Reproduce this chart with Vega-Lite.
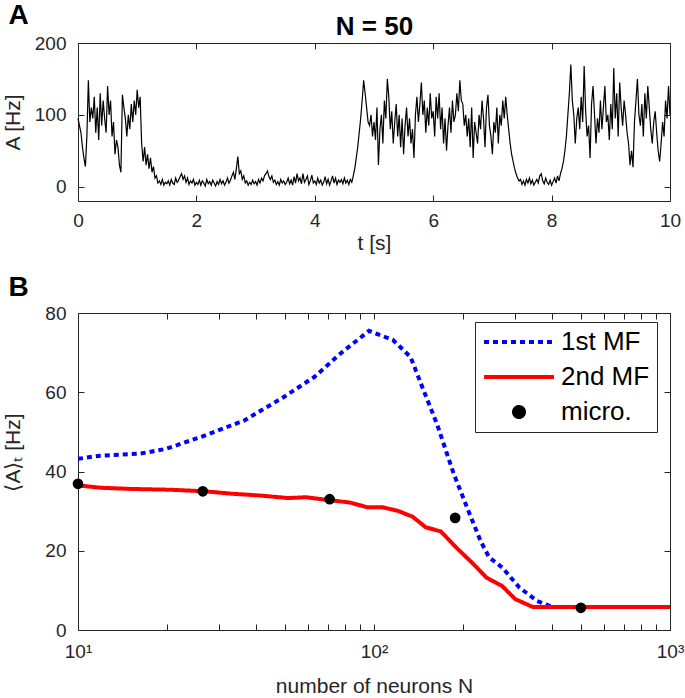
{
  "$schema": "https://vega.github.io/schema/vega-lite/v6.json",
  "padding": {"left": 1, "top": 0, "right": 0, "bottom": 0},
  "config": {
    "font": "Liberation Sans",
    "view": {"stroke": "#262626", "strokeWidth": 1},
    "axis": {"domain": false, "grid": false, "tickSize": -6, "tickColor": "#262626", "tickWidth": 1, "labelFontSize": 19, "labelColor": "#262626", "titleFontSize": 21, "titleFontWeight": "normal", "titleColor": "#262626", "labelFlush": false, "labelOverlap": false},
    "axisY": {"labelPadding": 18},
    "axisX": {"labelPadding": 16}
  },
  "spacing": 18,
  "resolve": {"legend": {"color": "independent"}},
  "vconcat": [
    {
      "width": 592,
      "height": 158,
      "data": {"values": [
{"t":0,"a":95},{"t":0.025,"a":85},{"t":0.05,"a":75},{"t":0.075,"a":55},{"t":0.1,"a":40},{"t":0.125,"a":28},{"t":0.15,"a":70},{"t":0.175,"a":148},{"t":0.2,"a":90},{"t":0.225,"a":110},
{"t":0.25,"a":95},{"t":0.275,"a":125},{"t":0.3,"a":75},{"t":0.325,"a":110},{"t":0.35,"a":65},{"t":0.375,"a":130},{"t":0.4,"a":85},{"t":0.425,"a":120},{"t":0.45,"a":95},{"t":0.475,"a":75},
{"t":0.5,"a":140},{"t":0.525,"a":100},{"t":0.55,"a":120},{"t":0.575,"a":70},{"t":0.6,"a":90},{"t":0.625,"a":45},{"t":0.65,"a":65},{"t":0.675,"a":55},{"t":0.7,"a":30},{"t":0.725,"a":20},
{"t":0.75,"a":128},{"t":0.775,"a":110},{"t":0.8,"a":95},{"t":0.825,"a":70},{"t":0.85,"a":100},{"t":0.875,"a":80},{"t":0.9,"a":115},{"t":0.925,"a":90},{"t":0.95,"a":120},{"t":0.975,"a":100},
{"t":1,"a":135},{"t":1.025,"a":110},{"t":1.05,"a":125},{"t":1.075,"a":60},{"t":1.1,"a":35},{"t":1.125,"a":55},{"t":1.15,"a":30},{"t":1.175,"a":45},{"t":1.2,"a":25},{"t":1.225,"a":40},
{"t":1.25,"a":20},{"t":1.275,"a":28},{"t":1.3,"a":12},{"t":1.325,"a":15},{"t":1.35,"a":5},{"t":1.375,"a":8},{"t":1.4,"a":3},{"t":1.425,"a":10},{"t":1.45,"a":2},{"t":1.475,"a":6},
{"t":1.5,"a":4},{"t":1.525,"a":8},{"t":1.55,"a":2},{"t":1.575,"a":10},{"t":1.6,"a":5},{"t":1.625,"a":3},{"t":1.65,"a":12},{"t":1.675,"a":6},{"t":1.7,"a":9},{"t":1.725,"a":14},
{"t":1.75,"a":18},{"t":1.775,"a":10},{"t":1.8,"a":15},{"t":1.825,"a":6},{"t":1.85,"a":12},{"t":1.875,"a":3},{"t":1.9,"a":8},{"t":1.925,"a":5},{"t":1.95,"a":10},{"t":1.975,"a":2},
{"t":2,"a":6},{"t":2.025,"a":3},{"t":2.05,"a":9},{"t":2.075,"a":2},{"t":2.1,"a":8},{"t":2.125,"a":5},{"t":2.15,"a":1},{"t":2.175,"a":10},{"t":2.2,"a":4},{"t":2.225,"a":7},
{"t":2.25,"a":2},{"t":2.275,"a":9},{"t":2.3,"a":5},{"t":2.325,"a":1},{"t":2.35,"a":7},{"t":2.375,"a":3},{"t":2.4,"a":10},{"t":2.425,"a":4},{"t":2.45,"a":8},{"t":2.475,"a":2},
{"t":2.5,"a":6},{"t":2.525,"a":12},{"t":2.55,"a":5},{"t":2.575,"a":9},{"t":2.6,"a":15},{"t":2.625,"a":20},{"t":2.65,"a":10},{"t":2.675,"a":25},{"t":2.7,"a":42},{"t":2.725,"a":18},
{"t":2.75,"a":22},{"t":2.775,"a":10},{"t":2.8,"a":15},{"t":2.825,"a":5},{"t":2.85,"a":8},{"t":2.875,"a":2},{"t":2.9,"a":6},{"t":2.925,"a":3},{"t":2.95,"a":9},{"t":2.975,"a":4},
{"t":3,"a":7},{"t":3.025,"a":2},{"t":3.05,"a":10},{"t":3.075,"a":5},{"t":3.1,"a":12},{"t":3.125,"a":8},{"t":3.15,"a":15},{"t":3.175,"a":18},{"t":3.2,"a":22},{"t":3.225,"a":14},
{"t":3.25,"a":10},{"t":3.275,"a":15},{"t":3.3,"a":6},{"t":3.325,"a":9},{"t":3.35,"a":3},{"t":3.375,"a":7},{"t":3.4,"a":2},{"t":3.425,"a":10},{"t":3.45,"a":5},{"t":3.475,"a":8},
{"t":3.5,"a":3},{"t":3.525,"a":6},{"t":3.55,"a":12},{"t":3.575,"a":4},{"t":3.6,"a":9},{"t":3.625,"a":2},{"t":3.65,"a":14},{"t":3.675,"a":5},{"t":3.7,"a":18},{"t":3.725,"a":8},
{"t":3.75,"a":12},{"t":3.775,"a":4},{"t":3.8,"a":18},{"t":3.825,"a":6},{"t":3.85,"a":10},{"t":3.875,"a":15},{"t":3.9,"a":3},{"t":3.925,"a":8},{"t":3.95,"a":16},{"t":3.975,"a":5},
{"t":4,"a":8},{"t":4.025,"a":3},{"t":4.05,"a":12},{"t":4.075,"a":5},{"t":4.1,"a":9},{"t":4.125,"a":2},{"t":4.15,"a":6},{"t":4.175,"a":14},{"t":4.2,"a":4},{"t":4.225,"a":10},
{"t":4.25,"a":2},{"t":4.275,"a":8},{"t":4.3,"a":15},{"t":4.325,"a":5},{"t":4.35,"a":12},{"t":4.375,"a":3},{"t":4.4,"a":9},{"t":4.425,"a":6},{"t":4.45,"a":10},{"t":4.475,"a":4},
{"t":4.5,"a":12},{"t":4.525,"a":5},{"t":4.55,"a":9},{"t":4.575,"a":3},{"t":4.6,"a":10},{"t":4.625,"a":6},{"t":4.65,"a":15},{"t":4.675,"a":25},{"t":4.7,"a":40},{"t":4.725,"a":55},
{"t":4.75,"a":75},{"t":4.775,"a":95},{"t":4.8,"a":120},{"t":4.825,"a":148},{"t":4.85,"a":130},{"t":4.875,"a":110},{"t":4.9,"a":90},{"t":4.925,"a":85},{"t":4.95,"a":100},{"t":4.975,"a":70},
{"t":5,"a":90},{"t":5.025,"a":65},{"t":5.05,"a":110},{"t":5.075,"a":30},{"t":5.1,"a":80},{"t":5.125,"a":100},{"t":5.15,"a":60},{"t":5.175,"a":120},{"t":5.2,"a":95},{"t":5.225,"a":150},
{"t":5.25,"a":125},{"t":5.275,"a":80},{"t":5.3,"a":105},{"t":5.325,"a":60},{"t":5.35,"a":90},{"t":5.375,"a":115},{"t":5.4,"a":70},{"t":5.425,"a":100},{"t":5.45,"a":55},{"t":5.475,"a":95},
{"t":5.5,"a":45},{"t":5.525,"a":85},{"t":5.55,"a":110},{"t":5.575,"a":70},{"t":5.6,"a":95},{"t":5.625,"a":60},{"t":5.65,"a":80},{"t":5.675,"a":40},{"t":5.7,"a":100},{"t":5.725,"a":125},
{"t":5.75,"a":90},{"t":5.775,"a":115},{"t":5.8,"a":145},{"t":5.825,"a":100},{"t":5.85,"a":120},{"t":5.875,"a":75},{"t":5.9,"a":110},{"t":5.925,"a":85},{"t":5.95,"a":130},{"t":5.975,"a":95},
{"t":6,"a":105},{"t":6.025,"a":70},{"t":6.05,"a":125},{"t":6.075,"a":95},{"t":6.1,"a":130},{"t":6.125,"a":80},{"t":6.15,"a":110},{"t":6.175,"a":60},{"t":6.2,"a":95},{"t":6.225,"a":50},
{"t":6.25,"a":85},{"t":6.275,"a":110},{"t":6.3,"a":75},{"t":6.325,"a":120},{"t":6.35,"a":90},{"t":6.375,"a":100},{"t":6.4,"a":130},{"t":6.425,"a":105},{"t":6.45,"a":148},{"t":6.475,"a":120},
{"t":6.5,"a":115},{"t":6.525,"a":85},{"t":6.55,"a":100},{"t":6.575,"a":70},{"t":6.6,"a":95},{"t":6.625,"a":55},{"t":6.65,"a":110},{"t":6.675,"a":40},{"t":6.7,"a":90},{"t":6.725,"a":75},
{"t":6.75,"a":60},{"t":6.775,"a":100},{"t":6.8,"a":80},{"t":6.825,"a":120},{"t":6.85,"a":95},{"t":6.875,"a":55},{"t":6.9,"a":110},{"t":6.925,"a":128},{"t":6.95,"a":85},{"t":6.975,"a":70},
{"t":7,"a":45},{"t":7.025,"a":90},{"t":7.05,"a":75},{"t":7.075,"a":110},{"t":7.1,"a":60},{"t":7.125,"a":100},{"t":7.15,"a":85},{"t":7.175,"a":120},{"t":7.2,"a":95},{"t":7.225,"a":125},
{"t":7.25,"a":100},{"t":7.275,"a":80},{"t":7.3,"a":60},{"t":7.325,"a":45},{"t":7.35,"a":35},{"t":7.375,"a":25},{"t":7.4,"a":18},{"t":7.425,"a":12},{"t":7.45,"a":8},{"t":7.475,"a":10},
{"t":7.5,"a":3},{"t":7.525,"a":8},{"t":7.55,"a":2},{"t":7.575,"a":10},{"t":7.6,"a":5},{"t":7.625,"a":12},{"t":7.65,"a":4},{"t":7.675,"a":9},{"t":7.7,"a":2},{"t":7.725,"a":6},
{"t":7.75,"a":10},{"t":7.775,"a":5},{"t":7.8,"a":15},{"t":7.825,"a":18},{"t":7.85,"a":8},{"t":7.875,"a":4},{"t":7.9,"a":12},{"t":7.925,"a":6},{"t":7.95,"a":3},{"t":7.975,"a":9},
{"t":8,"a":2},{"t":8.025,"a":7},{"t":8.05,"a":12},{"t":8.075,"a":5},{"t":8.1,"a":15},{"t":8.125,"a":8},{"t":8.15,"a":18},{"t":8.175,"a":25},{"t":8.2,"a":35},{"t":8.225,"a":50},
{"t":8.25,"a":70},{"t":8.275,"a":100},{"t":8.3,"a":130},{"t":8.325,"a":170},{"t":8.35,"a":120},{"t":8.375,"a":100},{"t":8.4,"a":60},{"t":8.425,"a":95},{"t":8.45,"a":110},{"t":8.475,"a":80},
{"t":8.5,"a":125},{"t":8.525,"a":90},{"t":8.55,"a":168},{"t":8.575,"a":105},{"t":8.6,"a":70},{"t":8.625,"a":85},{"t":8.65,"a":40},{"t":8.675,"a":115},{"t":8.7,"a":140},{"t":8.725,"a":100},
{"t":8.75,"a":60},{"t":8.775,"a":95},{"t":8.8,"a":75},{"t":8.825,"a":120},{"t":8.85,"a":80},{"t":8.875,"a":110},{"t":8.9,"a":140},{"t":8.925,"a":90},{"t":8.95,"a":100},{"t":8.975,"a":65},
{"t":9,"a":115},{"t":9.025,"a":80},{"t":9.05,"a":165},{"t":9.075,"a":95},{"t":9.1,"a":130},{"t":9.125,"a":70},{"t":9.15,"a":145},{"t":9.175,"a":110},{"t":9.2,"a":85},{"t":9.225,"a":120},
{"t":9.25,"a":100},{"t":9.275,"a":75},{"t":9.3,"a":60},{"t":9.325,"a":30},{"t":9.35,"a":50},{"t":9.375,"a":27},{"t":9.4,"a":90},{"t":9.425,"a":120},{"t":9.45,"a":150},{"t":9.475,"a":100},
{"t":9.5,"a":85},{"t":9.525,"a":115},{"t":9.55,"a":70},{"t":9.575,"a":130},{"t":9.6,"a":95},{"t":9.625,"a":140},{"t":9.65,"a":110},{"t":9.675,"a":80},{"t":9.7,"a":60},{"t":9.725,"a":90},
{"t":9.75,"a":105},{"t":9.775,"a":75},{"t":9.8,"a":50},{"t":9.825,"a":35},{"t":9.85,"a":60},{"t":9.875,"a":90},{"t":9.9,"a":70},{"t":9.925,"a":120},{"t":9.95,"a":95},{"t":9.975,"a":140},
{"t":10,"a":100}
      ]},
      "layer": [
        {
          "mark": {"type": "line", "color": "black", "strokeWidth": 1.2},
          "encoding": {
            "x": {"field": "t", "type": "quantitative", "scale": {"domain": [0, 10], "nice": false}, "axis": {"values": [0, 2, 4, 6, 8, 10], "title": "t  [s]", "titlePadding": 2}},
            "y": {"field": "a", "type": "quantitative", "scale": {"domain": [-20, 200], "nice": false}, "axis": {"values": [0, 100, 200], "title": "A  [Hz]", "titleX": -55}}
          }
        },
        {
          "mark": {"type": "line", "opacity": 0},
          "encoding": {
            "x": {"field": "t", "type": "quantitative", "axis": {"orient": "top", "values": [0, 2, 4, 6, 8, 10], "labels": false, "title": "N = 50", "titleFontSize": 26, "titleFontWeight": "bold", "titleColor": "black", "titlePadding": 3}},
            "y": {"field": "a", "type": "quantitative", "axis": {"orient": "right", "values": [0, 100, 200], "labels": false, "title": "A", "titleAngle": 0, "titleAlign": "left", "titleBaseline": "alphabetic", "titleX": -662, "titleY": -20, "titleFontSize": 28, "titleFontWeight": "bold", "titleColor": "black"}}
          }
        }
      ],
      "resolve": {"axis": {"x": "independent", "y": "independent"}}
    },
    {
      "width": 592,
      "height": 317,
      "data": {"values": [
{"s":"1st MF","n":10,"v":43.2},{"s":"1st MF","n":11.9,"v":44.0},{"s":"1st MF","n":16.2,"v":44.5},{"s":"1st MF","n":19.8,"v":45.7},{"s":"1st MF","n":26.9,"v":49.1},{"s":"1st MF","n":36.5,"v":52.9},{"s":"1st MF","n":49.6,"v":58.8},{"s":"1st MF","n":63,"v":63.9},{"s":"1st MF","n":77.1,"v":69.8},{"s":"1st MF","n":96.2,"v":75.5},{"s":"1st MF","n":115.9,"v":73.2},{"s":"1st MF","n":132.9,"v":68.9},{"s":"1st MF","n":147,"v":60.5},{"s":"1st MF","n":163,"v":52.1},{"s":"1st MF","n":186,"v":39.4},{"s":"1st MF","n":206,"v":31.0},{"s":"1st MF","n":229,"v":22.5},{"s":"1st MF","n":245,"v":18.3},{"s":"1st MF","n":271,"v":15.8},{"s":"1st MF","n":310,"v":10.7},{"s":"1st MF","n":356,"v":7.3},{"s":"1st MF","n":401,"v":5.8},{"s":"1st MF","n":1000,"v":5.8},
{"s":"2nd MF","n":10,"v":36.5},{"s":"2nd MF","n":11.9,"v":35.9},{"s":"2nd MF","n":15.1,"v":35.6},{"s":"2nd MF","n":20.5,"v":35.4},{"s":"2nd MF","n":26.9,"v":35.0},{"s":"2nd MF","n":33,"v":34.4},{"s":"2nd MF","n":41.9,"v":33.9},{"s":"2nd MF","n":51.3,"v":33.3},{"s":"2nd MF","n":58.8,"v":33.5},{"s":"2nd MF","n":72,"v":32.7},{"s":"2nd MF","n":82.5,"v":32.2},{"s":"2nd MF","n":94.6,"v":31.0},{"s":"2nd MF","n":106.4,"v":31.0},{"s":"2nd MF","n":120,"v":30.1},{"s":"2nd MF","n":135,"v":28.6},{"s":"2nd MF","n":149.6,"v":25.9},{"s":"2nd MF","n":168,"v":24.9},{"s":"2nd MF","n":189.7,"v":20.8},{"s":"2nd MF","n":217,"v":16.6},{"s":"2nd MF","n":240,"v":13.2},{"s":"2nd MF","n":271,"v":11.1},{"s":"2nd MF","n":300,"v":7.8},{"s":"2nd MF","n":344,"v":5.8},{"s":"2nd MF","n":1000,"v":5.8},
{"s":"micro.","n":10,"v":36.9},{"s":"micro.","n":26.4,"v":35.0},{"s":"micro.","n":70.8,"v":33.0},{"s":"micro.","n":188,"v":28.3},{"s":"micro.","n":500,"v":5.6}
      ]},
      "layer": [
        {
          "transform": [{"filter": "datum.s !== 'micro.'"}],
          "mark": {"type": "line", "strokeWidth": 4},
          "encoding": {
            "x": {"field": "n", "type": "quantitative", "scale": {"type": "log", "domain": [10, 1000], "nice": false}, "axis": {"values": [10, 20, 30, 40, 50, 60, 70, 80, 90, 100, 200, 300, 400, 500, 600, 700, 800, 900, 1000], "labelExpr": "datum.value == 10 ? '10¹' : datum.value == 100 ? '10²' : datum.value == 1000 ? '10³' : ''", "title": "number of neurons N", "labelPadding": 18, "titlePadding": 14}},
            "y": {"field": "v", "type": "quantitative", "scale": {"domain": [0, 80], "nice": false}, "axis": {"values": [0, 20, 40, 60, 80], "title": "⟨A⟩ₜ  [Hz]", "titleX": -55, "titleY": 139}},
            "color": {"field": "s", "type": "nominal", "scale": {"domain": ["1st MF", "2nd MF", "micro."], "range": ["#0000ff", "#ff0000", "#000000"]},
              "legend": {"title": null, "titlePadding": 0, "orient": "none", "legendX": 397, "legendY": 9, "symbolSize": 100, "symbolStrokeWidth": 4, "labelFontSize": 26, "labelColor": "black", "padding": 7, "strokeColor": "#262626", "fillColor": "white", "rowPadding": 9, "symbolOffset": 24, "labelOffset": 29,
                "encode": {"symbols": {"update": {
                  "shape": {"signal": "datum.value === 'micro.' ? 'circle' : 'M-7,0H7'"},
                  "fill": {"signal": "datum.value === 'micro.' ? 'black' : 'transparent'"},
                  "stroke": {"signal": "datum.value === '1st MF' ? '#0000ff' : datum.value === '2nd MF' ? '#ff0000' : 'transparent'"},
                  "strokeDash": {"signal": "datum.value === '1st MF' ? [5, 4] : [1, 0]"},
                  "strokeWidth": {"value": 4},
                  "size": {"value": 100},
                  "opacity": {"value": 1}
                }}}}},
            "strokeDash": {"field": "s", "type": "nominal", "scale": {"domain": ["1st MF", "2nd MF"], "range": [[5, 4], [1, 0]]}, "legend": null}
          }
        },
        {
          "transform": [{"filter": "datum.s === 'micro.'"}],
          "mark": {"type": "point", "filled": true, "size": 115, "opacity": 1},
          "encoding": {
            "x": {"field": "n", "type": "quantitative", "axis": null},
            "y": {"field": "v", "type": "quantitative", "axis": null},
            "color": {"field": "s", "type": "nominal"}
          }
        },
        {
          "mark": {"type": "line", "opacity": 0},
          "encoding": {
            "x": {"field": "n", "type": "quantitative", "axis": {"orient": "top", "values": [10, 20, 30, 40, 50, 60, 70, 80, 90, 100, 200, 300, 400, 500, 600, 700, 800, 900, 1000], "labels": false, "title": null}},
            "y": {"field": "v", "type": "quantitative", "axis": {"orient": "right", "values": [0, 20, 40, 60, 80], "labels": false, "title": "B", "titleAngle": 0, "titleAlign": "left", "titleBaseline": "alphabetic", "titleX": -662, "titleY": -18, "titleFontSize": 28, "titleFontWeight": "bold", "titleColor": "black"}},
            "detail": {"field": "s"}
          }
        }
      ],
      "resolve": {"axis": {"x": "independent", "y": "independent"}}
    }
  ]
}
